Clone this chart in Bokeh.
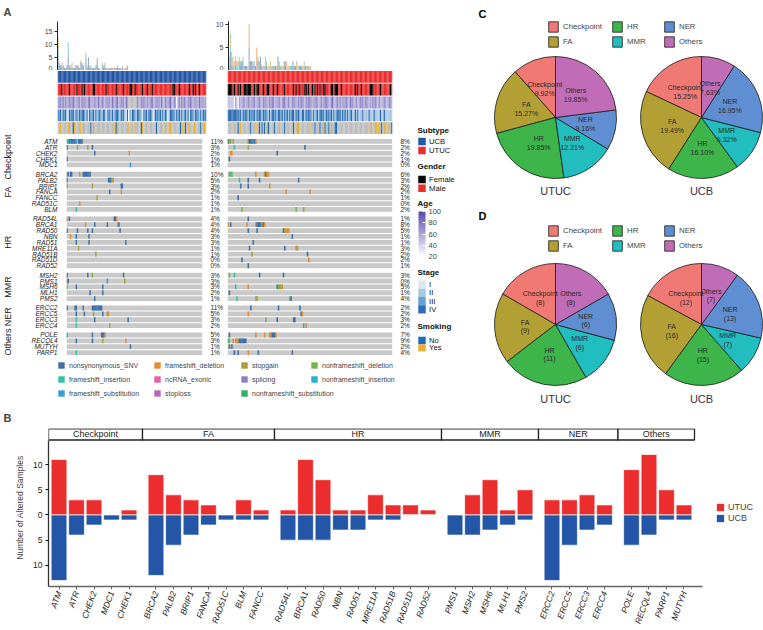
import re
import math
import numpy as np
from bokeh.plotting import figure
from bokeh.layouts import row, column
from bokeh.models import (Range1d, LinearAxis, FixedTicker, Legend, LegendItem,
                          ColorBar, LinearColorMapper, ColumnDataSource)
from bokeh.embed import file_html
from bokeh.resources import INLINE
from bokeh.core.properties import value

FONT = "Liberation Sans"
F = value(FONT)

# ------------------------------------------------------------------ data
N_UCB = 118
N_UTUC = 131
PATHWAYS = ["Checkpoint", "FA", "HR", "MMR", "NER", "Others"]

ONCO_CHECKPOINT = ["ATM", "ATR", "CHEK2", "CHEK1", "MDC1"]
ONCO_FA = ["BRCA2", "PALB2", "BRIP1", "FANCA", "FANCC", "RAD51C", "BLM"]
ONCO_HR = ["RAD54L", "BRCA1", "RAD50", "NBN", "RAD51", "MRE11A", "RAD51B", "RAD51D", "RAD52"]
ONCO_MMR = ["MSH2", "PMS1", "MSH6", "MLH1", "PMS2"]
ONCO_NER = ["ERCC2", "ERCC5", "ERCC3", "ERCC4"]
ONCO_OTHERS = ["POLE", "RECQL4", "MUTYH", "PARP1"]

MUT_CODES = ["ns", "fi", "fs", "fd", "nc", "sl", "sg", "sp", "nfs", "nfd", "nfi"]
MUT_NAMES = ["nonsynonymous_SNV", "frameshift_insertion", "frameshift_substitution",
             "frameshift_deletion", "ncRNA_exonic", "stoploss", "stopgain", "splicing",
             "nonframeshift_substitution", "nonframeshift_deletion", "nonframeshift_insertion"]

# sample index + mutation code, per gene
UCB_MUTATIONS = [
    ("ATM", "0fi 1fi 2ns 3fs 4ns 5ns 6ns 7ns 8fs 10ns 11ns 12ns 13ns"),
    ("ATR", "0ns 9sg 18sg 22ns"), ("CHEK2", "24ns 54fd"), ("CHEK1", "0ns"), ("MDC1", "55fs"),
    ("BRCA2", "0fd 1ns 3ns 4ns 11sg 14ns 15ns 16ns 17ns 18ns 19ns 20ns"),
    ("PALB2", "0ns 36ns 37ns 38ns 39sg 40sg"), ("BRIP1", "0sg 22sg 47ns 48ns"),
    ("FANCA", "37ns 47fd"), ("FANCC", "26sg"), ("RAD51C", "11fd"), ("BLM", "8fi"),
    ("RAD54L", "0fd 2ns 41ns 42ns 43fd"), ("BRCA1", "16fd 24ns 35ns 44fd 45ns"),
    ("RAD50", "0ns 9ns 18ns 22ns 46ns"), ("NBN", "3fd 8ns 19ns"), ("RAD51", "8ns 19ns 51ns"),
    ("MRE11A", "10sg"), ("RAD51B", "25sg"), ("RAD51D", ""), ("RAD52", ""),
    ("MSH2", "0ns 18ns 22nfd 49ns"), ("PMS1", "0sg 1ns 35fs 50sg"), ("MSH6", "0nfd 8ns 31ns"),
    ("MLH1", "20ns 31ns"), ("PMS2", "24ns"),
    ("ERCC2", "0ns 7ns 8ns 14ns 22ns 23ns 24ns 25ns 26ns 27ns 28ns 29ns 30ns"),
    ("ERCC5", "8ns 15ns 23sg 31ns 35nfd 36fd"), ("ERCC3", "8fi 24ns 53ns"), ("ERCC4", "8fi 37sg"),
    ("POLE", "0fs 22ns 30ns 31ns 32ns 33fd"), ("RECQL4", "8ns 22ns 31sg 51fd"),
    ("MUTYH", "55ns"), ("PARP1", "8fi"),
]
UTUC_MUTATIONS = [
    ("ATM", "0ns 1nfd 2nfd 4fd 16sg 17ns 18ns 19ns 20fs 21ns 22fd"),
    ("ATR", "5fi 16sg 61ns"), ("CHEK2", "2fd 3fd 39ns"), ("CHEK1", "1ns"), ("MDC1", ""),
    ("BRCA2", "1sg 2fi 3nfd 22fd 29sg 30ns 31fd 32fd"), ("PALB2", "9fi 16ns 25ns 56ns"),
    ("BRIP1", "10ns 16ns 33sg"), ("FANCA", "46fd 65fd"), ("FANCC", "8ns"), ("RAD51C", ""),
    ("BLM", "11nfd 54nfd 60nfd"), ("RAD54L", "16ns"),
    ("BRCA1", "0fd 2ns 15fd 22fd 23ns 24ns 25ns 26ns 27fd 28ns 29fd"),
    ("RAD50", "16ns 23ns 44ns 45sg 46fd 47fd 48fd"), ("NBN", "51ns"), ("RAD51", "20ns"),
    ("MRE11A", "17ns 45ns 54fd 55sg"), ("RAD51B", "19sg 63ns"), ("RAD51D", "11ns 64fd"),
    ("RAD52", "16ns"), ("MSH2", "1nfd 5fi 25ns 44ns"), ("PMS1", ""),
    ("MSH6", "6fi 16fd 39ns 40nfd 41nfd 42fd 43sg"), ("MLH1", "1ns"),
    ("PMS2", "7fi 22fd 23sg 49fi 50ns"), ("ERCC2", "18ns 40ns 57ns"), ("ERCC5", "16fd 58ns 59fd"),
    ("ERCC3", "30nfd 39ns 52ns 53ns"), ("ERCC4", "60fs 62fd"),
    ("POLE", "1ns 22fd 29fd 33sg 34fd 35ns 36ns 37ns 38fd"),
    ("RECQL4", "0nfd 1fi 4fd 6fd 7fd 8sg 9ns 10ns 11ns 12ns 13ns 14ns"),
    ("MUTYH", "1ns 3ns"), ("PARP1", "5ns 8ns 16fd 24ns 51ns"),
]

UCB_FEMALE = [3, 9, 15, 19, 21, 28, 29, 38, 46, 52, 57, 58, 61, 67, 71, 75, 91, 92, 96, 104, 107, 109, 112]
UTUC_FEMALE = [0, 1, 2, 3, 5, 8, 10, 13, 14, 15, 16, 17, 18, 21, 23, 24, 28, 31, 32, 36, 39, 45, 52, 54,
               57, 61, 62, 64, 67, 69, 71, 73, 76, 77, 82, 83, 85, 86, 87, 90, 101, 103, 106, 113,
               114, 115, 121, 129]
# age decade per sample (0 = missing)
UCB_AGE = ("7676857667" "6786576758" "6675786657" "7586676576" "6758667856" "7675860000"
           "0007657686" "5766785667" "7586576678" "6576267586" "7657687566" "75867657")
UTUC_AGE = ("5545526526" "5676567657" "6756676576" "7657687566" "6756786576" "5767657686"
            "6576786567" "7656756876" "6578656767" "5676765867" "6575676857" "6756586765"
            "7506765676" "6")
# stage per sample (0 = missing)
UCB_STAGE = ("4342434214" "3442342434" "4324143342" "4234324413" "3424234432" "4342140324"
             "4324432143" "4244321434" "3424243124" "4432434242" "3424144324" "43242434")
UTUC_STAGE = ("4444444443" "4243442434" "3424344243" "4324244342" "4434243424" "3442434324"
              "4243443242" "3424434243" "4342423444" "2434242342" "2424222422" "2242224222"
              "2422422222" "2")
UCB_SMOKE_YES = [2, 8, 9, 13, 18, 20, 28, 33, 45, 47, 56, 61, 67, 82, 85, 88, 89, 98, 99, 103, 108, 116]
UCB_SMOKE_NO = [12, 26, 46, 66, 78, 97, 101, 113]
UTUC_SMOKE_YES = [10, 23, 31, 41, 55, 56, 65, 76, 82, 111, 114, 117, 118, 119, 120, 124, 127]
UTUC_SMOKE_NO = [8, 18, 25, 27, 29, 32, 37, 45, 52, 69, 73, 77, 80, 85, 86, 122, 130]

# panel B
B_GENES = ["ATM", "ATR", "CHEK2", "MDC1", "CHEK1",
           "BRCA2", "PALB2", "BRIP1", "FANCA", "RAD51C", "BLM", "FANCC",
           "RAD54L", "BRCA1", "RAD50", "NBN", "RAD51", "MRE11A", "RAD51B", "RAD51D", "RAD52",
           "PMS1", "MSH2", "MSH6", "MLH1", "PMS2",
           "ERCC2", "ERCC5", "ERCC3", "ERCC4",
           "POLE", "RECQL4", "PARP1", "MUTYH"]
B_PATHWAY = (["Checkpoint"] * 5 + ["FA"] * 7 + ["HR"] * 9 + ["MMR"] * 5 + ["NER"] * 4 + ["Others"] * 4)
B_UTUC = [11, 3, 3, 0, 1, 8, 4, 3, 2, 0, 3, 1, 1, 11, 7, 1, 1, 4, 2, 2, 1, 0, 4, 7, 1, 5, 3, 3, 4, 2, 9, 12, 5, 2]
B_UCB = [13, 4, 2, 1, 1, 12, 6, 4, 2, 1, 1, 1, 5, 5, 5, 3, 3, 1, 1, 0, 0, 4, 4, 3, 2, 1, 13, 6, 3, 2, 6, 4, 1, 1]

# panels C / D
C_UTUC = [13, 20, 26, 16, 12, 26]   # altered samples per pathway (of 131)
C_UCB = [18, 23, 19, 11, 20, 9]     # altered samples per pathway (of 118)
D_UTUC = [8, 9, 11, 6, 6, 8]
D_UCB = [12, 16, 15, 7, 13, 7]

# ------------------------------------------------------------------ styles
MUT_COLOR = {"ns": "#3E6FA7", "fi": "#35C1A1", "fs": "#3A9BDA", "fd": "#E38B36",
             "nc": "#E95CA3", "sl": "#B46AB5", "sg": "#A8A03A", "sp": "#8E7EC4",
             "nfs": "#2FB45E", "nfd": "#74B544", "nfi": "#22B4D4"}
UCB_BLUE = "#2356A6"
UTUC_RED = "#EC2D2D"
BG_GRAY = "#C9C9C9"
NA_GRAY = "#BEBEBE"
STAGE_COLOR = {0: "#FFFFFF", 1: "#DDE7F3", 2: "#A8C9E5", 3: "#66A3D4", 4: "#2F6DB2"}
SMOKE_YES = "#E8B12F"
SMOKE_NO = "#1F6DB8"
PIE_COLORS = ["#F07A73", "#B3A035", "#3DB54A", "#22BDBE", "#5F8FD2", "#C06CB6"]

lo_rgb, hi_rgb = (255, 255, 255), (88, 74, 172)
AGE_PAL = ["#%02x%02x%02x" % tuple(int(round(lo_rgb[k] + (hi_rgb[k] - lo_rgb[k]) * t / 63)) for k in range(3))
           for t in range(64)]
AGE_MAPPER = LinearColorMapper(palette=AGE_PAL, low=20, high=100, nan_color=NA_GRAY)


def parse(spec):
    return [(int(m.group(1)), m.group(2)) for m in re.finditer(r"(\d+)([a-z]+)", spec)]


def base_fig(w, h, xr, yr, l=0, r=0, t=0, b=0, xloc=None, yloc=None):
    p = figure(width=w, height=h, x_range=xr, y_range=yr, toolbar_location=None,
               output_backend="svg", x_axis_location=xloc, y_axis_location=yloc,
               min_border_left=l, min_border_right=r, min_border_top=t, min_border_bottom=b)
    p.outline_line_color = None
    p.grid.visible = False
    return p


def quiet_axis(ax, size, italic=False, standoff=2):
    ax.axis_line_color = None
    ax.major_tick_line_color = None
    ax.minor_tick_line_color = None
    ax.major_label_text_font = FONT
    ax.major_label_text_font_size = size
    ax.major_label_text_color = "#1a1a1a"
    ax.major_label_standoff = standoff
    if italic:
        ax.major_label_text_font_style = "italic"


def set_title(p, text, offset, standoff):
    p.title.text = text
    p.title.align = "left"
    p.title.offset = offset
    p.title.standoff = standoff
    p.title.text_font = FONT
    p.title.text_font_size = "11px"
    p.title.text_font_style = "bold"


def make_legend(items, loc, gw, gh, fs, spacing):
    return Legend(items=items, orientation="vertical", location=loc, glyph_width=gw, glyph_height=gh,
                  label_text_font=FONT, label_text_font_size=fs, label_height=gh, label_standoff=4,
                  spacing=spacing, padding=0, margin=0, border_line_color=None, background_fill_alpha=0)


# ------------------------------------------------------------------ panel A
ONCO_GROUPS = [ONCO_CHECKPOINT, ONCO_FA, ONCO_HR, ONCO_MMR, ONCO_NER, ONCO_OTHERS]
ALL_GENES = [g for grp in ONCO_GROUPS for g in grp]
GAP = 0.6
gene_y, group_mid = {}, []
pos = 0.0
for grp in ONCO_GROUPS:
    start = pos
    for g in grp:
        gene_y[g] = -(pos + 0.5)
        pos += 1
    group_mid.append(-(start + pos) / 2)
    pos += GAP
ONCO_TOTAL = pos - GAP


def bars_fig(mutations, n, ymax, ticks, w, l, r):
    p = base_fig(w, 70, Range1d(0, n), Range1d(0, ymax), l=l, r=r, t=20, b=0, yloc="left")
    per = {}
    for gene, spec in mutations:
        for s, code in parse(spec):
            per.setdefault(s, []).append(code)
    xs, bot, top, col = [], [], [], []
    for s, codes in per.items():
        codes.sort(key=MUT_CODES.index)
        for k, c in enumerate(codes):
            xs.append(s + 0.5); bot.append(k); top.append(k + 1); col.append(MUT_COLOR[c])
    p.vbar(x=xs, bottom=bot, top=top, width=0.85, fill_color=col, fill_alpha=0.6, line_color=None)
    ax = p.yaxis[0]
    ax.ticker = FixedTicker(ticks=ticks)
    ax.major_label_text_font = FONT
    ax.major_label_text_font_size = "7px"
    ax.major_tick_out = 3
    ax.major_tick_in = 0
    ax.minor_tick_line_color = None
    ax.axis_line_color = "#222222"
    ax.major_tick_line_color = "#222222"
    ax.major_label_standoff = 2
    return p


def annot_fig(n, sub_color, female, age_s, stage_s, yes, no, w, l, r):
    p = base_fig(w, 64, Range1d(0, n), Range1d(0, 5), l=l, r=r)
    xs = [s + 0.5 for s in range(n)]
    kw = dict(width=1.06, height=0.92, line_color=None)
    p.rect(x=xs, y=[4.5] * n, fill_color=[sub_color] * n, **kw)
    p.rect(x=xs, y=[3.5] * n, fill_color=["#000000" if s in female else UTUC_RED for s in range(n)], **kw)
    ages = [10.0 * int(c) if c != "0" else float("nan") for c in age_s[:n]]
    src = ColumnDataSource(dict(x=xs, y=[2.5] * n, age=ages))
    p.rect(x="x", y="y", source=src, fill_color=dict(field="age", transform=AGE_MAPPER), **kw)
    p.rect(x=xs, y=[1.5] * n, fill_color=[STAGE_COLOR[int(c)] for c in stage_s[:n]], **kw)
    smk = [SMOKE_YES if s in yes else SMOKE_NO if s in no else NA_GRAY for s in range(n)]
    p.rect(x=xs, y=[0.5] * n, fill_color=smk, **kw)
    return p


def onco_fig(mutations, n, w, l, r, show_genes):
    p = base_fig(w, 221, Range1d(0, n), Range1d(-ONCO_TOTAL, 0), l=l, r=r, t=4, b=0)
    p.rect(x=[n / 2] * len(ALL_GENES), y=[gene_y[g] for g in ALL_GENES], width=n, height=0.82,
           fill_color=BG_GRAY, line_color=None)
    xs, ys, cs, counts = [], [], [], {}
    for gene, spec in mutations:
        ev = parse(spec)
        counts[gene] = len(ev)
        for s, code in ev:
            xs.append(s + 0.5); ys.append(gene_y[gene]); cs.append(MUT_COLOR[code])
    p.rect(x=xs, y=ys, width=1.25, height=0.82, fill_color=cs, line_color=None)
    ticks = [gene_y[g] for g in ALL_GENES]
    pax = LinearAxis(ticker=FixedTicker(ticks=ticks),
                     major_label_overrides={gene_y[g]: "%d%%" % round(100 * counts[g] / n) for g in ALL_GENES})
    quiet_axis(pax, "6.5px", standoff=2)
    p.add_layout(pax, "right")
    if show_genes:
        gax = LinearAxis(ticker=FixedTicker(ticks=ticks), major_label_overrides={gene_y[g]: g for g in ALL_GENES})
        quiet_axis(gax, "6.5px", italic=True, standoff=3)
        p.add_layout(gax, "left")
        grp = LinearAxis(ticker=FixedTicker(ticks=group_mid),
                         major_label_overrides={m: name for m, name in zip(group_mid, PATHWAYS)},
                         major_label_orientation="vertical")
        quiet_axis(grp, "9px", standoff=9)
        p.add_layout(grp, "left")
    return p


lb = bars_fig(UCB_MUTATIONS, N_UCB, 19, [0, 5, 10, 15], 212, 57, 6)
rb = bars_fig(UTUC_MUTATIONS, N_UTUC, 10.6, [0, 5, 10], 200, 15, 20)
set_title(lb, "A", -54, 7)
la = annot_fig(N_UCB, UCB_BLUE, UCB_FEMALE, UCB_AGE, UCB_STAGE, UCB_SMOKE_YES, UCB_SMOKE_NO, 226, 57, 20)
ra = annot_fig(N_UTUC, UTUC_RED, UTUC_FEMALE, UTUC_AGE, UTUC_STAGE, UTUC_SMOKE_YES, UTUC_SMOKE_NO, 186, 1, 20)
lo = onco_fig(UCB_MUTATIONS, N_UCB, 226, 57, 20, True)
ro = onco_fig(UTUC_MUTATIONS, N_UTUC, 186, 1, 20, False)

# annotation legends (right of panel A), page-pixel coordinates
legA = base_fig(58, 355, Range1d(412, 470), Range1d(355, 0))
legA.text(x=[417] * 5, y=[130, 166, 203, 272, 326], text=["Subtype", "Gender", "Age", "Stage", "Smoking"],
          text_font=F, text_font_size="8px", text_font_style="bold", text_baseline="middle", text_color="#111111")
sw_y = [141, 150, 179, 187.7, 284.1, 292.4, 300.6, 308.9, 340, 347.3]
sw_h = [7.5, 7.5, 7.5, 7.5, 8.2, 8.2, 8.2, 8.2, 7.3, 7.3]
sw_c = [UCB_BLUE, UTUC_RED, "#000000", UTUC_RED, STAGE_COLOR[1], STAGE_COLOR[2], STAGE_COLOR[3],
        STAGE_COLOR[4], SMOKE_NO, SMOKE_YES]
legA.rect(x=[421.5] * len(sw_y), y=sw_y, width=7.5, height=sw_h, fill_color=sw_c, line_color=None)
legA.text(x=[428.5] * len(sw_y), y=sw_y, text=["UCB", "UTUC", "Female", "Male", "I", "II", "III", "IV", "No", "Yes"],
          text_font=F, text_font_size="7.7px", text_baseline="middle", text_color="#111111")
cb = ColorBar(color_mapper=AGE_MAPPER, ticker=FixedTicker(ticks=[20, 40, 60, 80, 100]), width=7, height=45,
              location=(6, 99), padding=0, margin=0, label_standoff=3, major_label_text_font=FONT,
              major_label_text_font_size="7.5px", major_tick_in=3, major_tick_out=0,
              major_tick_line_color="white", bar_line_color=None, background_fill_alpha=0)
legA.add_layout(cb)

# mutation-type legend: one legend per column
mutleg = base_fig(470, 50, Range1d(0, 1), Range1d(0, 1))
mrend = {}
for code in MUT_CODES:
    mrend[code] = mutleg.rect(x=[-10], y=[-10], width=1, height=1, fill_color=MUT_COLOR[code], line_color=None)
name_of = dict(zip(MUT_CODES, MUT_NAMES))
mcols = [(["ns", "fi", "fs"], 57, 8), (["fd", "nc", "sl"], 153, 8), (["sg", "sp", "nfs"], 240, 8),
         (["nfd", "nfi"], 310, 22)]
for codes, lx, ly in mcols:
    its = [LegendItem(label=name_of[c], renderers=[mrend[c]]) for c in codes]
    mutleg.add_layout(make_legend(its, (lx, ly), 8, 8, "7px", 6))

# ------------------------------------------------------------------ panels C & D


def pie(p, vals, cx, cy, r, labels):
    v = np.array(vals, float)
    frac = v / v.sum()
    ends = np.pi / 2 + 2 * np.pi * np.cumsum(frac)
    starts = ends - 2 * np.pi * frac
    rend = p.wedge(x=cx, y=cy, radius=r, start_angle=list(starts), end_angle=list(ends),
                   fill_color=PIE_COLORS, line_color="#1a1a1a", line_width=0.8)
    mids = (starts + ends) / 2
    p.text(x=list(cx + 0.5 * r * np.cos(mids)), y=list(cy + 0.5 * r * np.sin(mids)), text=labels,
           text_font=F, text_font_size="7px", text_align="center", text_baseline="middle",
           text_color="#2a2a2a", text_line_height=1.25)
    return rend


def pie_panel(h, letter, letter_y, cy, lab_y, leg_y, utuc_vals, ucb_vals, utuc_lab, ucb_lab):
    p = base_fig(293, h, Range1d(0, 293), Range1d(0, h))
    rend = pie(p, utuc_vals, 85, cy, 61, utuc_lab)
    pie(p, ucb_vals, 231, cy, 61, ucb_lab)
    p.text(x=[85, 231], y=[lab_y, lab_y], text=["UTUC", "UCB"], text_font=F, text_font_size="11px",
           text_align="center", text_baseline="middle", text_color="#333344")
    p.text(x=[8], y=[letter_y], text=[letter], text_font=F, text_font_size="11px", text_font_style="bold",
           text_baseline="top", text_color="#000000")
    for k, lx in enumerate([77, 141, 193]):
        its = [LegendItem(label=PATHWAYS[i], renderers=[rend], index=i) for i in (2 * k, 2 * k + 1)]
        p.add_layout(make_legend(its, (lx, leg_y), 12, 13, "7.8px", 2))
    return p


c_utuc_lab = ["%s\n%.2f%%" % (nm, 100 * v / N_UTUC) for nm, v in zip(PATHWAYS, C_UTUC)]
c_ucb_lab = ["%s\n%.2f%%" % (nm, 100 * v / N_UCB) for nm, v in zip(PATHWAYS, C_UCB)]
d_utuc_lab = ["%s\n(%d)" % (nm, v) for nm, v in zip(PATHWAYS, D_UTUC)]
d_ucb_lab = ["%s\n(%d)" % (nm, v) for nm, v in zip(PATHWAYS, D_UCB)]
cfig = pie_panel(208, "C", 201, 91, 18, 160, C_UTUC, C_UCB, c_utuc_lab, c_ucb_lab)
dfig = pie_panel(197, "D", 196, 81, 7, 153, D_UTUC, D_UCB, d_utuc_lab, d_ucb_lab)

# ------------------------------------------------------------------ panel B
FACET_GAP = 0.34
bpos, facets = [], []
cur = 0.0
for i, (g, pw) in enumerate(zip(B_GENES, B_PATHWAY)):
    if i > 0 and pw != B_PATHWAY[i - 1]:
        facets[-1][2] = bpos[-1] + 0.6
        cur = bpos[-1] + 1.2 + FACET_GAP
    if i == 0 or pw != B_PATHWAY[i - 1]:
        facets.append([pw, cur - 0.6, None])
    bpos.append(cur)
    cur += 1
facets[-1][2] = bpos[-1] + 0.6

B_W, B_H, B_L, B_T, B_B = 763, 225, 48, 22, 44
BARS_PX_W, BARS_PX_H, STRIP_PX = 646, 147, 12
Y_LO, Y_HI = -14.2, 14.8
x_lo, x_hi = -0.6, bpos[-1] + 0.6
ppu_x = BARS_PX_W / (x_hi - x_lo)
ppu_y = BARS_PX_H / (Y_HI - Y_LO)
strip_u = STRIP_PX / ppu_y
frame_w = B_W - B_L
frame_h = B_H - B_T - B_B
xrB = Range1d(x_lo, x_lo + frame_w / ppu_x)
yrB = Range1d(Y_HI + strip_u - frame_h / ppu_y, Y_HI + strip_u)

bfig = base_fig(B_W, B_H, xrB, yrB, l=B_L, r=0, t=B_T, b=B_B, xloc="below", yloc="left")
set_title(bfig, "B", -45, 9)
# facet strips
sx, sw = [], []
for k, (nm, a, b) in enumerate(facets):
    left = a - (FACET_GAP / 2 if k > 0 else 0)
    right = b + (FACET_GAP / 2 if k < len(facets) - 1 else 0)
    sx.append((left + right) / 2); sw.append(right - left)
strip_mid = Y_HI + strip_u / 2
bfig.rect(x=sx, y=[strip_mid] * len(sx), width=sw, height=strip_u * 0.93, fill_color="white",
          line_color="#222222", line_width=1.3)
bfig.text(x=sx, y=[strip_mid] * len(sx), text=[f[0] for f in facets], text_font=F, text_font_size="9px",
          text_align="center", text_baseline="middle", text_color="#222222")
r_utuc = bfig.vbar(x=bpos, bottom=0, top=B_UTUC, width=0.9, fill_color=UTUC_RED, line_color="white",
                   line_alpha=0.7, line_width=1)
r_ucb = bfig.vbar(x=bpos, top=0, bottom=[-v for v in B_UCB], width=0.9, fill_color=UCB_BLUE,
                  line_color="white", line_alpha=0.7, line_width=1)
xa = bfig.xaxis[0]
xa.ticker = FixedTicker(ticks=bpos)
xa.major_label_overrides = {p_: g for p_, g in zip(bpos, B_GENES)}
xa.major_label_orientation = math.radians(70)
xa.major_label_text_font = FONT
xa.major_label_text_font_size = "8.5px"
xa.major_label_text_font_style = "italic"
xa.major_label_text_color = "#222222"
xa.major_tick_out = 3
xa.major_tick_in = 0
xa.minor_tick_line_color = None
xa.axis_line_color = "#666666"
xa.axis_line_width = 1.5
xa.major_tick_line_color = "#666666"
xa.major_label_standoff = 2
xa.bounds = (x_lo, x_hi + 0.45)
ya = bfig.yaxis[0]
ya.ticker = FixedTicker(ticks=[-10, -5, 0, 5, 10])
ya.major_label_overrides = {-10: "10", -5: "5", 0: "0", 5: "5", 10: "10"}
ya.major_label_text_font = FONT
ya.major_label_text_font_size = "8.5px"
ya.major_label_text_color = "#222222"
ya.major_tick_out = 3
ya.major_tick_in = 0
ya.minor_tick_line_color = None
ya.axis_line_color = "#333333"
ya.axis_line_width = 1.3
ya.major_label_standoff = 3
ya.bounds = (Y_LO, Y_HI)
ya.axis_label = "Number of Altered Samples"
ya.axis_label_text_font = FONT
ya.axis_label_text_font_size = "8.5px"
ya.axis_label_text_font_style = "normal"
ya.axis_label_standoff = 5
bl = Legend(items=[LegendItem(label="UTUC", renderers=[r_utuc]), LegendItem(label="UCB", renderers=[r_ucb])],
            location=(667, 63), glyph_width=10, glyph_height=10, label_text_font=FONT,
            label_text_font_size="9px", label_height=10, label_standoff=3, spacing=1, padding=0,
            margin=0, border_line_color=None, background_fill_alpha=0)
bfig.add_layout(bl)

# ------------------------------------------------------------------ layout
A_main = column(row(lb, rb, spacing=0), row(la, ra, spacing=0), row(lo, ro, spacing=0), spacing=0)
top_left = column(row(A_main, legA, spacing=0), mutleg, spacing=0)
top = row(top_left, column(cfig, dfig, spacing=0), spacing=0)
page = column(top, bfig, spacing=0)

open("out.html", "w").write(file_html(page, INLINE))
